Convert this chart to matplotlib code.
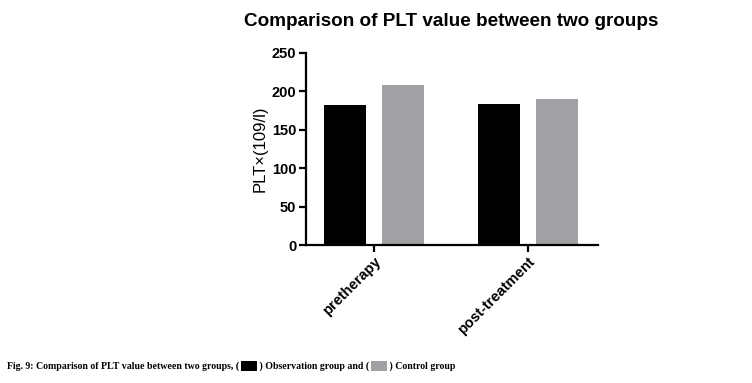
import matplotlib
matplotlib.use("Agg")
import matplotlib.pyplot as plt
import numpy as np
from matplotlib.patches import Rectangle

categories = ["pretherapy", "post-treatment"]
observation = [182, 183]
control = [208, 190]
yticks = [0, 50, 100, 150, 200, 250]

BLACK = "#000000"
GRAY = "#a1a0a5"

fig = plt.figure(figsize=(7.52, 3.83), dpi=100)
ax = fig.add_axes([0.407, 0.360, 0.388, 0.502])

x = np.arange(len(categories))
w = 0.273
off = 0.188
ax.bar(x - off, observation, width=w, color=BLACK)
ax.bar(x + off, control, width=w, color=GRAY)

ax.set_xlim(-0.44, 1.455)
ax.set_ylim(0, 250)
ax.set_yticks(yticks)
ax.set_yticklabels([str(v) for v in yticks], fontfamily="Liberation Sans", fontweight="bold", fontsize=10.5)
ax.set_xticks(x)
ax.set_xticklabels(categories, rotation=45, ha="right", rotation_mode="anchor",
                   fontfamily="Liberation Sans", fontweight="bold", fontsize=10.5)
ax.set_ylabel("PLT×(109/l)", fontfamily="Liberation Sans", fontsize=12, labelpad=3)
for s in ["top", "right"]:
    ax.spines[s].set_visible(False)
for s in ["left", "bottom"]:
    ax.spines[s].set_linewidth(1.6)
ax.tick_params(axis="both", direction="out", width=1.6, length=5, pad=2)

fig.text(0.60, 0.945, "Comparison of PLT value between two groups", ha="center", va="center",
         fontfamily="Liberation Sans", fontweight="bold", fontsize=13.6)

# caption with legend boxes
fig.canvas.draw()
renderer = fig.canvas.get_renderer()
cap_y = 1 - 366 / 383
xpos = 7 / 752
pieces = ["Fig. 9: Comparison of PLT value between two groups, (", BLACK,
          " ) Observation group and (", GRAY, " ) Control group"]
for p in pieces:
    if p.startswith("#"):
        bw, bh = 16 / 752, 10 / 383
        xpos += 2 / 752
        fig.patches.append(Rectangle((xpos, cap_y - bh / 2), bw, bh, transform=fig.transFigure,
                                     facecolor=p, edgecolor="none"))
        xpos += bw
    else:
        t = fig.text(xpos, cap_y, p, ha="left", va="center", fontfamily="Liberation Serif",
                     fontweight="bold", fontsize=7.1)
        bb = t.get_window_extent(renderer)
        xpos += bb.width / fig.bbox.width

fig.savefig("out.png", dpi=100)
